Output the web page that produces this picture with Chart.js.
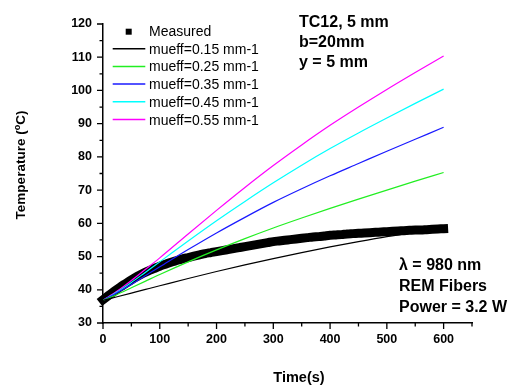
<!DOCTYPE html>
<html>
<head>
<meta charset="utf-8">
<script src="https://cdn.jsdelivr.net/npm/chart.js@4.4.1/dist/chart.umd.min.js"></script>
<style>
  html, body { margin: 0; padding: 0; background: #fff; }
  canvas { display: block; }
</style>
</head>
<body>
<canvas id="tempChart" width="512" height="385"></canvas>
<script>
// measured thermocouple reading (TC12), one sample every 10 s
const measuredTime = [0, 10, 20, 30, 40, 50, 60, 70, 80, 90, 100, 110, 120, 130, 140, 150,
  160, 170, 180, 190, 200, 210, 220, 230, 240, 250, 260, 270, 280, 290, 300, 310, 320, 330,
  340, 350, 360, 370, 380, 390, 400, 410, 420, 430, 440, 450, 460, 470, 480, 490, 500, 510,
  520, 530, 540, 550, 560, 570, 580, 590, 600];
const measuredTemp = [37.0, 38.3, 39.6, 40.8, 41.9, 43.0, 44.0, 44.9, 45.7, 46.4, 47.1, 47.7,
  48.3, 48.8, 49.3, 49.7, 50.1, 50.5, 50.9, 51.2, 51.5, 51.8, 52.1, 52.4, 52.7, 53.0, 53.3,
  53.6, 53.9, 54.2, 54.5, 54.7, 54.9, 55.1, 55.3, 55.5, 55.7, 55.9, 56.0, 56.2, 56.4, 56.5,
  56.6, 56.8, 56.9, 57.0, 57.1, 57.2, 57.3, 57.4, 57.5, 57.6, 57.7, 57.8, 57.9, 58.0, 58.0,
  58.1, 58.2, 58.3, 58.4];

// simulated curves for several effective attenuation coefficients
const modelTime = [0, 25, 50, 75, 100, 150, 200, 250, 300, 350, 400, 450, 500, 550, 600];
const mu015 = [36.8, 37.9, 39.0, 40.1, 41.2, 43.4, 45.5, 47.5, 49.4, 51.2, 52.9, 54.5, 56.0, 57.3, 58.5];
const mu025 = [36.8, 38.6, 40.6, 42.6, 44.6, 48.4, 52.0, 55.4, 58.6, 61.6, 64.5, 67.3, 70.0, 72.7, 75.3];
const mu035 = [36.8, 39.1, 41.6, 44.3, 46.9, 52.1, 57.1, 61.8, 66.3, 70.4, 74.3, 78.0, 81.7, 85.3, 88.9];
const mu045 = [36.8, 39.3, 42.2, 45.3, 48.4, 54.7, 60.8, 66.6, 72.2, 77.5, 82.5, 87.2, 91.7, 96.1, 100.4];
const mu055 = [36.8, 39.6, 42.8, 46.2, 49.6, 56.8, 63.9, 70.8, 77.4, 83.6, 89.5, 95.0, 100.3, 105.4, 110.4];

const modelLabels = ['mueff=0.15 mm-1', 'mueff=0.25 mm-1', 'mueff=0.35 mm-1', 'mueff=0.45 mm-1', 'mueff=0.55 mm-1'];
const modelColors = ['#000000', '#22ee22', '#1a1aff', '#00ffff', '#ff00ff'];
const modelSeries = [mu015, mu025, mu035, mu045, mu055];

const FONT = '"Liberation Sans", Arial, sans-serif';

const pairs = (xs, ys) => xs.map((x, i) => ({ x: x, y: ys[i] }));

// measured samples: square markers packed into a solid band
const datasets = [{
  label: 'Measured',
  data: pairs(measuredTime, measuredTemp),
  showLine: true,
  borderWidth: 9,
  borderColor: '#000',
  borderCapStyle: 'square',
  cubicInterpolationMode: 'monotone',
  pointStyle: 'rect',
  pointRadius: 4,
  pointHoverRadius: 4,
  pointBorderWidth: 0,
  pointBackgroundColor: '#000',
  backgroundColor: '#000',
  order: 1,
  clip: false
}];
modelSeries.forEach((s, i) => {
  datasets.push({
    label: modelLabels[i],
    data: pairs(modelTime, s),
    borderColor: modelColors[i],
    borderWidth: 1.2,
    pointRadius: 0,
    cubicInterpolationMode: 'monotone',
    fill: false,
    order: 0
  });
});

// axis ticks (major + minor), legend box, notes and axis titles
const decorations = {
  id: 'decorations',
  afterDraw(chart) {
    const c = chart.ctx;
    const xs = chart.scales.x, ys = chart.scales.y;
    const area = chart.chartArea;
    c.save();
    c.strokeStyle = '#000';
    c.lineWidth = 1.3;
    c.beginPath();
    for (let v = 0; v <= 650; v += 50) {
      const px = xs.getPixelForValue(v);
      const len = v % 100 === 0 ? 6 : 3.5;
      c.moveTo(px, area.bottom);
      c.lineTo(px, area.bottom + len);
    }
    for (let v = 30; v <= 120; v += 5) {
      const py = ys.getPixelForValue(v);
      const len = v % 10 === 0 ? 6 : 3.5;
      c.moveTo(area.left, py);
      c.lineTo(area.left - len, py);
    }
    c.stroke();

    // legend
    c.font = '14px ' + FONT;
    c.textBaseline = 'alphabetic';
    c.textAlign = 'left';
    c.fillStyle = '#000';
    const rowY = i => 36 + i * 17.7;
    c.fillRect(125.7, rowY(0) - 7.3, 6, 6);
    c.fillText('Measured', 149, rowY(0));
    modelLabels.forEach((lab, i) => {
      const y = rowY(i + 1);
      c.strokeStyle = modelColors[i];
      c.lineWidth = 1.5;
      c.beginPath();
      c.moveTo(112.7, y - 5);
      c.lineTo(145.3, y - 5);
      c.stroke();
      c.fillText(lab, 149, y);
    });

    // notes
    c.font = 'bold 16px ' + FONT;
    c.fillText('TC12, 5 mm', 299, 26.7);
    c.fillText('b=20mm', 299, 47);
    c.fillText('y = 5 mm', 299, 67.3);
    c.fillText('\u03bb = 980 nm', 399, 270);
    c.fillText('REM Fibers', 399, 290.7);
    c.fillText('Power = 3.2 W', 399, 311.5);

    // x title
    c.font = 'bold 14.5px ' + FONT;
    c.textAlign = 'center';
    c.fillText('Time(s)', 299, 382);

    // y title with superscript degree
    c.translate(25, 165);
    c.rotate(-Math.PI / 2);
    const big = 'bold 13.5px ' + FONT, small = 'bold 9px ' + FONT;
    c.textAlign = 'left';
    c.font = big;
    const w1 = c.measureText('Temperature (').width;
    const w3 = c.measureText('C)').width;
    c.font = small;
    const w2 = c.measureText('o').width;
    let x = -(w1 + w2 + w3) / 2;
    c.font = big;
    c.fillText('Temperature (', x, 0);
    x += w1;
    c.font = small;
    c.fillText('o', x, -5);
    x += w2;
    c.font = big;
    c.fillText('C)', x, 0);
    c.restore();
  }
};

const tickFont = { family: FONT, size: 12.5, weight: 'bold' };

new Chart(document.getElementById('tempChart'), {
  type: 'line',
  data: { datasets: datasets },
  options: {
    responsive: false,
    animation: false,
    events: [],
    layout: { padding: { left: 0, right: 40, top: 24, bottom: 0 } },
    plugins: {
      legend: { display: false },
      tooltip: { enabled: false }
    },
    scales: {
      x: {
        type: 'linear',
        min: 0,
        max: 650,
        afterFit: s => { s.height = 62; },
        border: { display: true, color: '#000', width: 1.5 },
        grid: { drawOnChartArea: false, drawTicks: true, tickLength: 6, color: 'rgba(0,0,0,0)' },
        ticks: {
          stepSize: 50,
          autoSkip: false,
          maxRotation: 0,
          padding: 3,
          color: '#000',
          font: tickFont,
          callback: v => (v % 100 === 0 && v <= 600) ? v : ''
        }
      },
      y: {
        type: 'linear',
        min: 30,
        max: 120,
        afterFit: s => { s.width = 103; },
        border: { display: true, color: '#000', width: 1.5 },
        grid: { drawOnChartArea: false, drawTicks: true, tickLength: 6, color: 'rgba(0,0,0,0)' },
        ticks: {
          stepSize: 5,
          autoSkip: false,
          padding: 5,
          color: '#000',
          font: tickFont,
          callback: v => v % 10 === 0 ? v : ''
        }
      }
    }
  },
  plugins: [decorations]
});
</script>
</body>
</html>
